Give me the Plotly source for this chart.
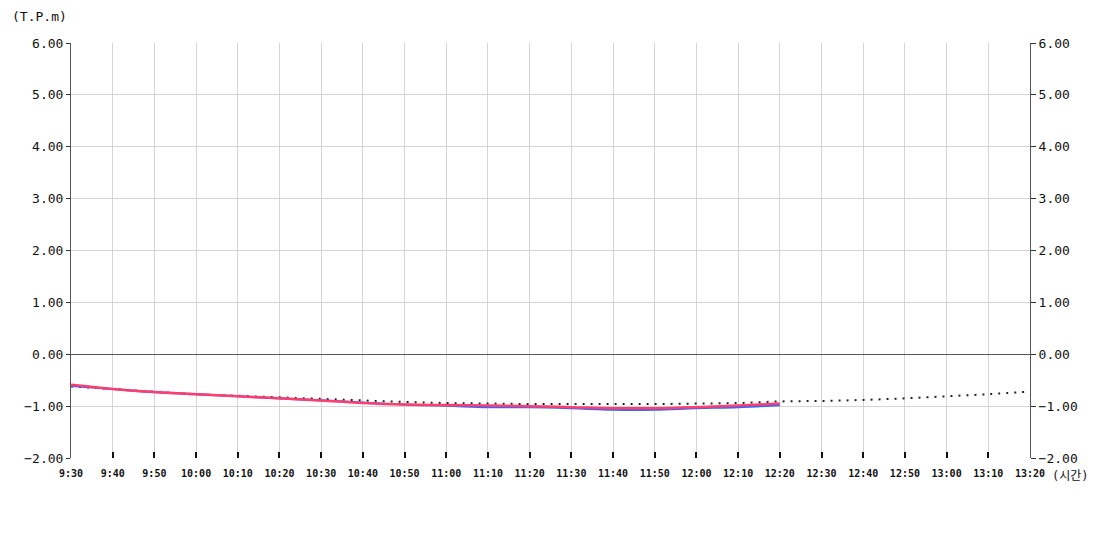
import plotly.graph_objects as go

times = ["9:30", "9:40", "9:50", "10:00", "10:10", "10:20", "10:30", "10:40", "10:50",
         "11:00", "11:10", "11:20", "11:30", "11:40", "11:50", "12:00", "12:10", "12:20",
         "12:30", "12:40", "12:50", "13:00", "13:10", "13:20"]

forecast = [-0.62, -0.67, -0.72, -0.77, -0.80, -0.83, -0.86, -0.89, -0.92,
            -0.94, -0.95, -0.96, -0.96, -0.96, -0.96, -0.95, -0.94, -0.91,
            -0.90, -0.88, -0.85, -0.81, -0.77, -0.72]

blue_vals = [-0.61, -0.67, -0.73, -0.77, -0.81, -0.85, -0.89, -0.93, -0.97,
             -0.99, -1.02, -1.02, -1.04, -1.07, -1.07, -1.04, -1.02, -0.98]

red_vals = [-0.59, -0.67, -0.73, -0.77, -0.81, -0.85, -0.89, -0.94, -0.97,
            -0.98, -0.99, -1.00, -1.02, -1.04, -1.04, -1.02, -0.99, -0.95]

y_ticks = [6, 5, 4, 3, 2, 1, 0, -1, -2]

FONT = "DejaVu Sans Mono, Noto Sans CJK KR, monospace"

fig = go.Figure()
fig.add_trace(go.Scatter(x=times, y=forecast, mode="lines",
                         line=dict(color="#222222", width=2, dash="2px,6px", shape="spline"),
                         hoverinfo="skip", showlegend=False))
fig.add_trace(go.Scatter(x=times[:len(blue_vals)], y=blue_vals, mode="lines",
                         line=dict(color="#3366ff", width=2.2, shape="spline"),
                         showlegend=False))
fig.add_trace(go.Scatter(x=times[:len(red_vals)], y=red_vals, mode="lines",
                         line=dict(color="#ff3d6e", width=2.5, shape="spline"),
                         showlegend=False))
# invisible trace for right axis
fig.add_trace(go.Scatter(x=times[:1], y=[0], yaxis="y2", mode="markers",
                         marker=dict(opacity=0), hoverinfo="skip", showlegend=False))

fig.update_layout(
    width=1100, height=550,
    margin=dict(l=63, r=78, t=35, b=100),
    paper_bgcolor="white", plot_bgcolor="white",
    font=dict(family=FONT, color="#111111"),
    xaxis=dict(
        type="category", categoryorder="array", categoryarray=times,
        range=[0, len(times) - 1],
        tickvals=times, ticktext=times,
        showgrid=True, gridcolor="#d4d4d4", gridwidth=1,
        ticks="inside", ticklen=6, tickcolor="#111111", tickwidth=1.5,
        ticklabelstandoff=8,
        tickfont=dict(size=10, family=FONT, color="#111111", weight="bold"),
        showline=False, zeroline=False,
    ),
    yaxis=dict(
        range=[-2, 6], tickvals=y_ticks, tickformat=".2f",
        showgrid=True, gridcolor="#d4d4d4", gridwidth=1,
        zeroline=True, zerolinecolor="#555555", zerolinewidth=1,
        showline=True, linecolor="#555555", linewidth=1,
        ticks="outside", ticklen=4, tickcolor="#333333",
        tickfont=dict(size=13, family=FONT, color="#111111"),
    ),
    yaxis2=dict(
        range=[-2, 6], tickvals=y_ticks, tickformat=".2f",
        overlaying="y", side="right", showgrid=False, zeroline=False,
        showline=True, linecolor="#555555", linewidth=1,
        ticks="outside", ticklen=5, tickcolor="#333333",
        tickfont=dict(size=13, family=FONT, color="#111111"),
    ),
    annotations=[
        dict(text="(T.P.m)", xref="paper", yref="paper", x=-0.0636, y=1.04,
             xanchor="left", yanchor="bottom", showarrow=False,
             font=dict(size=13, family=FONT, color="#111111")),
        dict(text="(시간)", xref="paper", yref="paper", x=1.021, y=-0.044,
             xanchor="left", yanchor="middle", showarrow=False,
             font=dict(size=12, family=FONT, color="#111111")),
    ],
)

fig.write_html("out.html")
